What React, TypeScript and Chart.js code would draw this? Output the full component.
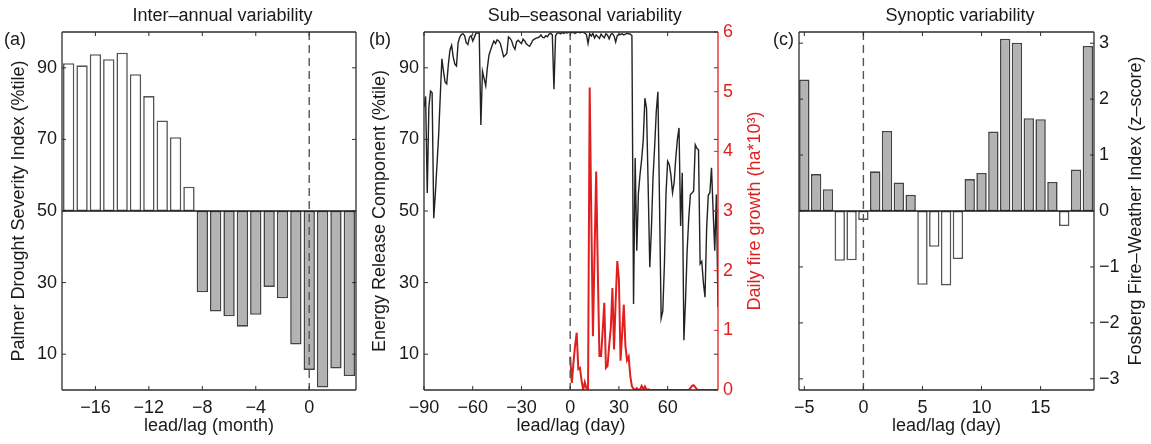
import React, { useEffect, useRef } from "react";
import { Chart, registerables } from "chart.js";

Chart.register(...registerables);

// ---------- Panel (a): inter-annual variability ----------
const monthLags = [-18, -17, -16, -15, -14, -13, -12, -11, -10, -9, -8, -7, -6, -5, -4, -3, -2, -1, 0, 1, 2, 3];
const pdsiValues = [91.3, 90.7, 93.8, 92.4, 94.2, 88.2, 82.1, 75.3, 70.6, 56.8, 27.3, 21.9, 20.6, 17.7, 21.0, 28.8, 25.6, 12.7, 5.6, 0.7, 6.0, 3.9];
const monthTicks = [-16, -12, -8, -4, 0];
const pdsiTicks = [10, 30, 50, 70, 90];

// ---------- Panel (b): sub-seasonal variability ----------
const ercFirstDay = -90;
const ercValues = [
  79, 82, 55, 79, 83.5, 83, 48, 55, 63, 71,
  82, 92.5, 89, 86, 85.5, 91, 95, 96.3, 93, 91,
  90.5, 97, 98.5, 99.3, 99.5, 99, 97, 96.5, 98.5, 99,
  97.5, 98.5, 99.7, 99.7, 99.7, 74, 89, 87, 85, 90,
  93.5, 95, 96.3, 97.5, 96.8, 97.8, 97.5, 96.8, 95, 93.1,
  93.5, 94, 98.6, 98.2, 97.5, 96, 95.2, 97.3, 97.7, 97.2,
  96.8, 98, 97.5, 96.7, 96.3, 96, 96.8, 97.7, 98, 98.3,
  98.4, 98.6, 99.2, 98.5, 98.4, 99, 98.7, 99.4, 99.6, 99.2,
  84, 99, 99.6, 99.8, 99.5, 99.9, 99.6, 99.9, 99.7, 99.9,
  100, 99.8, 99.9, 99.6, 99.9, 100, 99.8, 99.9, 100, 99.7,
  99.3, 96.8, 99.5, 98.9, 99.6, 98.3, 99.2, 98.7, 98.2, 99.4,
  98.8, 98.4, 99.5, 99.1, 98.1, 99.3, 99.6, 98.9, 97.2, 99,
  99.4, 99.3, 99.5, 99.2, 99.4, 99.6, 99.5, 99.4, 99, 24,
  64.8, 38.9, 55, 60.2, 64.4, 70, 81.5, 78.7, 57, 34.3,
  45, 59.4, 68, 77.8, 83.3, 52, 20, 22, 35, 55,
  63.9, 63, 60, 55.1, 58, 64.8, 70, 73.2, 45.8, 60.7,
  13.9, 25, 38.9, 48, 54.6, 55, 55.6, 68.5, 67.5, 67.1,
  35.2, 35.9, 30, 25.9, 45, 54.4, 55.1, 62.1, 50, 38.9,
  54.6, 23.2,
];
const fireFirstDay = 0;
const fireGrowth = [
  0.56, 0.12, 0.45, 0.74, 0.96, 0.35, 0.37, 0.16, 0, 0.13,
  0.03, 0.02, 5.07, 2.9, 0.9, 2.3, 3.66, 2.0, 0.57, 0.57,
  1.0, 1.46, 0.37, 0.4, 0.75, 1.04, 1.71, 0.68, 1.5, 2.16,
  1.85, 0.49, 0.95, 1.43, 0.74, 0.5, 0.56, 0.23, 0.06, 0.02,
  0, 0.03, 0, 0.01, 0.07, 0.01, 0.06, 0, 0.01, 0,
  0, 0, 0, 0, 0, 0, 0, 0, 0, 0,
  0, 0, 0, 0, 0, 0, 0, 0, 0, 0,
  0, 0, 0, 0, 0.03, 0.07, 0.08, 0.05, 0.01, 0,
  0, 0, 0, 0, 0, 0, 0, 0, 0, 0,
  0, 0,
];
const dayTicksB = [-90, -60, -30, 0, 30, 60];
const ercTicks = [10, 30, 50, 70, 90];
const fireTicks = [0, 1, 2, 3, 4, 5, 6];

// ---------- Panel (c): synoptic variability ----------
const synopticDays = [-5, -4, -3, -2, -1, 0, 1, 2, 3, 4, 5, 6, 7, 8, 9, 10, 11, 12, 13, 14, 15, 16, 17, 18, 19];
const fosbergValues = [2.35, 0.66, 0.39, -0.89, -0.88, -0.16, 0.71, 1.43, 0.51, 0.29, -1.32, -0.64, -1.33, -0.86, 0.57, 0.68, 1.42, 3.08, 3.01, 1.66, 1.64, 0.52, -0.27, 0.74, 2.95];
const dayTicksC = [-5, 0, 5, 10, 15];
const fosbergTicks = [-3, -2, -1, 0, 1, 2, 3];

// ---------- styles ----------
const FONT_FAMILY = '"Liberation Sans", Arial, Helvetica, sans-serif';
const FONT_SIZE = 18;
const TEXT = "#1a1a1a";
const AXIS = "#2e2e2e";
const RED = "#e11f1f";
const BAR_GRAY = "#b3b3b3";
const BAR_EDGE = "#444444";
const WHITE_EDGE = "#555555";
const H = 444;

const fmt = (v: number) => (v < 0 ? "\u2212" + Math.abs(v) : String(v));
const font = { family: FONT_FAMILY, size: FONT_SIZE };

const matlabAxesPlugin = {
  id: "matlabAxes",
  afterDatasetsDraw(chart: any, _args: any, opts: any) {
    const { ctx, chartArea } = chart;
    const { left, right, top, bottom } = chartArea;
    ctx.save();
    if (opts.baseline) {
      const ys = chart.scales[opts.baseline.axis];
      const y = ys.getPixelForValue(opts.baseline.value);
      ctx.strokeStyle = "#1a1a1a";
      ctx.lineWidth = 1.6;
      ctx.beginPath();
      ctx.moveTo(left, y);
      ctx.lineTo(right, y);
      ctx.stroke();
    }
    const xs = chart.scales.x;
    const x0 = xs.getPixelForValue(0);
    ctx.setLineDash([8, 5]);
    ctx.strokeStyle = "#555555";
    ctx.lineWidth = 1.4;
    ctx.beginPath();
    ctx.moveTo(x0, top);
    ctx.lineTo(x0, bottom);
    ctx.stroke();
    ctx.setLineDash([]);

    const TL = 4;
    ctx.lineWidth = 1;
    ctx.strokeStyle = AXIS;
    xs.ticks.forEach((t: any) => {
      const x = xs.getPixelForValue(t.value);
      ctx.beginPath();
      ctx.moveTo(x, bottom);
      ctx.lineTo(x, bottom - TL);
      ctx.moveTo(x, top);
      ctx.lineTo(x, top + TL);
      ctx.stroke();
    });
    (opts.yTicks || []).forEach((spec: any) => {
      const s = chart.scales[spec.id];
      ctx.strokeStyle = spec.color;
      s.ticks.forEach((t: any) => {
        const y = s.getPixelForValue(t.value);
        ctx.beginPath();
        if (spec.sides.includes("left")) {
          ctx.moveTo(left, y);
          ctx.lineTo(left + TL, y);
        }
        if (spec.sides.includes("right")) {
          ctx.moveTo(right, y);
          ctx.lineTo(right - TL, y);
        }
        ctx.stroke();
      });
    });

    ctx.lineWidth = 1.3;
    ctx.strokeStyle = AXIS;
    ctx.beginPath();
    ctx.moveTo(left, top);
    ctx.lineTo(right, top);
    ctx.moveTo(left, bottom);
    ctx.lineTo(right, bottom);
    ctx.moveTo(left, top);
    ctx.lineTo(left, bottom);
    ctx.stroke();
    ctx.strokeStyle = opts.rightColor || AXIS;
    ctx.beginPath();
    ctx.moveTo(right, top);
    ctx.lineTo(right, bottom);
    ctx.stroke();
    ctx.restore();
  },
  afterDraw(chart: any, _args: any, opts: any) {
    const { ctx, chartArea } = chart;
    ctx.save();
    ctx.font = `${FONT_SIZE}px ${FONT_FAMILY}`;
    ctx.fillStyle = TEXT;
    ctx.textBaseline = "middle";
    if (opts.title) {
      ctx.textAlign = "center";
      ctx.fillText(opts.title.text, opts.title.x, opts.title.y);
    }
    if (opts.label) {
      ctx.textAlign = "left";
      ctx.fillText(opts.label.text, opts.label.x, opts.label.y);
    }
    if (opts.rightTitle) {
      ctx.save();
      ctx.fillStyle = opts.rightTitle.color || TEXT;
      ctx.translate(opts.rightTitle.x, (chartArea.top + chartArea.bottom) / 2);
      ctx.rotate(-Math.PI / 2);
      ctx.textAlign = "center";
      ctx.fillText(opts.rightTitle.text, 0, 0);
      ctx.restore();
    }
    ctx.restore();
  },
};

function xScale(min: number, max: number, ticks: number[], title: string) {
  return {
    type: "linear",
    position: "bottom",
    min,
    max,
    offset: false,
    grid: { display: false, drawTicks: false, offset: false },
    border: { display: false },
    afterBuildTicks: (s: any) => {
      s.ticks = ticks.map((v) => ({ value: v }));
    },
    afterFit: (s: any) => {
      s.height = H - 390;
    },
    ticks: { font, color: TEXT, padding: 7.2, maxRotation: 0, autoSkip: false, callback: (v: any) => fmt(Number(v)) },
    title: { display: true, text: title, font, color: TEXT, padding: { top: 0, bottom: 6.7 } },
  };
}

function yScale(
  position: string,
  min: number,
  max: number,
  ticks: number[],
  width: number,
  color: string,
  title?: string,
  titlePad = 0
) {
  return {
    type: "linear",
    position,
    min,
    max,
    grid: { display: false, drawTicks: false },
    border: { display: false },
    afterBuildTicks: (s: any) => {
      s.ticks = ticks.map((v) => ({ value: v }));
    },
    afterFit: (s: any) => {
      s.width = width;
    },
    ticks: { font, color, padding: 5, autoSkip: false, callback: (v: any) => fmt(Number(v)) },
    title: title
      ? { display: true, text: title, font, color, padding: { top: titlePad, bottom: 0 } }
      : { display: false },
  };
}

const basePlugins = { legend: { display: false }, tooltip: { enabled: false } };

function configA(): any {
  return {
    type: "bar",
    data: {
      datasets: [
        {
          data: monthLags.map((m, i) => ({ x: m, y: [50, pdsiValues[i]] })),
          backgroundColor: pdsiValues.map((v) => (v >= 50 ? "#ffffff" : BAR_GRAY)),
          borderColor: pdsiValues.map((v) => (v >= 50 ? WHITE_EDGE : BAR_EDGE)),
          borderWidth: 1.6,
          borderSkipped: false,
          barPercentage: 0.85,
          categoryPercentage: 1,
        },
      ],
    },
    options: {
      responsive: false,
      animation: false,
      layout: { padding: { left: 0, right: 12, top: 32, bottom: 0 } },
      plugins: {
        ...basePlugins,
        matlabAxes: {
          baseline: { axis: "y", value: 50 },
          yTicks: [{ id: "y", color: AXIS, sides: ["left", "right"] }],
          title: { text: "Inter\u2013annual variability", x: 222.5, y: 16.5 },
          label: { text: "(a)", x: 4, y: 40 },
        },
      },
      scales: {
        x: xScale(-18.5, 3.5, monthTicks, "lead/lag (month)"),
        y: yScale("left", 0, 100, pdsiTicks, 62, TEXT, "Palmer Drought Severity Index (%tile)", 8.7),
      },
    },
    plugins: [matlabAxesPlugin],
  };
}

function configB(): any {
  return {
    type: "line",
    data: {
      datasets: [
        {
          data: ercValues.map((v, i) => ({ x: ercFirstDay + i, y: v })),
          yAxisID: "y",
          borderColor: "#222222",
          borderWidth: 1.4,
          pointRadius: 0,
          tension: 0,
        },
        {
          data: fireGrowth.map((v, i) => ({ x: fireFirstDay + i, y: v })),
          yAxisID: "y2",
          borderColor: RED,
          borderWidth: 2,
          pointRadius: 0,
          tension: 0,
        },
      ],
    },
    options: {
      responsive: false,
      animation: false,
      layout: { padding: { left: 0, right: 0, top: 32, bottom: 0 } },
      plugins: {
        ...basePlugins,
        matlabAxes: {
          rightColor: RED,
          yTicks: [
            { id: "y", color: AXIS, sides: ["left", "right"] },
            { id: "y2", color: RED, sides: ["right"] },
          ],
          title: { text: "Sub\u2013seasonal variability", x: 216.7, y: 16.5 },
          label: { text: "(b)", x: 1, y: 40 },
          rightTitle: { text: "Daily fire growth (ha*10\u00b3)", x: 387, color: RED },
        },
      },
      scales: {
        x: xScale(-90, 91, dayTicksB, "lead/lag (day)"),
        y: yScale("left", 0, 100, ercTicks, 56, TEXT, "Energy Release Component (%tile)", 1.7),
        y2: yScale("right", 0, 6, fireTicks, 52, RED),
      },
    },
    plugins: [matlabAxesPlugin],
  };
}

function configC(): any {
  return {
    type: "bar",
    data: {
      datasets: [
        {
          data: synopticDays.map((d, i) => ({ x: d, y: [0, fosbergValues[i]] })),
          backgroundColor: fosbergValues.map((v) => (v >= 0 ? BAR_GRAY : "#ffffff")),
          borderColor: fosbergValues.map((v) => (v >= 0 ? BAR_EDGE : WHITE_EDGE)),
          borderWidth: 1.6,
          borderSkipped: false,
          barPercentage: 0.88,
          categoryPercentage: 1,
        },
      ],
    },
    options: {
      responsive: false,
      animation: false,
      layout: { padding: { left: 29, right: 0, top: 32, bottom: 0 } },
      plugins: {
        ...basePlugins,
        matlabAxes: {
          baseline: { axis: "y", value: 0 },
          yTicks: [{ id: "y", color: AXIS, sides: ["left", "right"] }],
          title: { text: "Synoptic variability", x: 190, y: 16.5 },
          label: { text: "(c)", x: 3, y: 40 },
          rightTitle: { text: "Fosberg Fire\u2013Weather Index (z\u2013score)", x: 366, color: TEXT },
        },
      },
      scales: {
        x: xScale(-5.45, 19.52, dayTicksC, "lead/lag (day)"),
        y: yScale("right", -3.2, 3.2, fosbergTicks, 57, TEXT),
      },
    },
    plugins: [matlabAxesPlugin],
  };
}

function Panel({ left, width, makeConfig }: { left: number; width: number; makeConfig: () => any }) {
  const ref = useRef<HTMLCanvasElement>(null);
  useEffect(() => {
    if (!ref.current) return;
    const chart = new Chart(ref.current, makeConfig());
    return () => chart.destroy();
  }, []);
  return (
    <canvas
      ref={ref}
      width={width}
      height={H}
      style={{ position: "absolute", left, top: 0, width, height: H }}
    />
  );
}

export default function App() {
  return (
    <div style={{ position: "absolute", left: 0, top: 0, width: 1151, height: H, background: "#ffffff", overflow: "hidden" }}>
      <Panel left={0} width={368} makeConfig={configA} />
      <Panel left={368} width={402} makeConfig={configB} />
      <Panel left={770} width={381} makeConfig={configC} />
    </div>
  );
}
